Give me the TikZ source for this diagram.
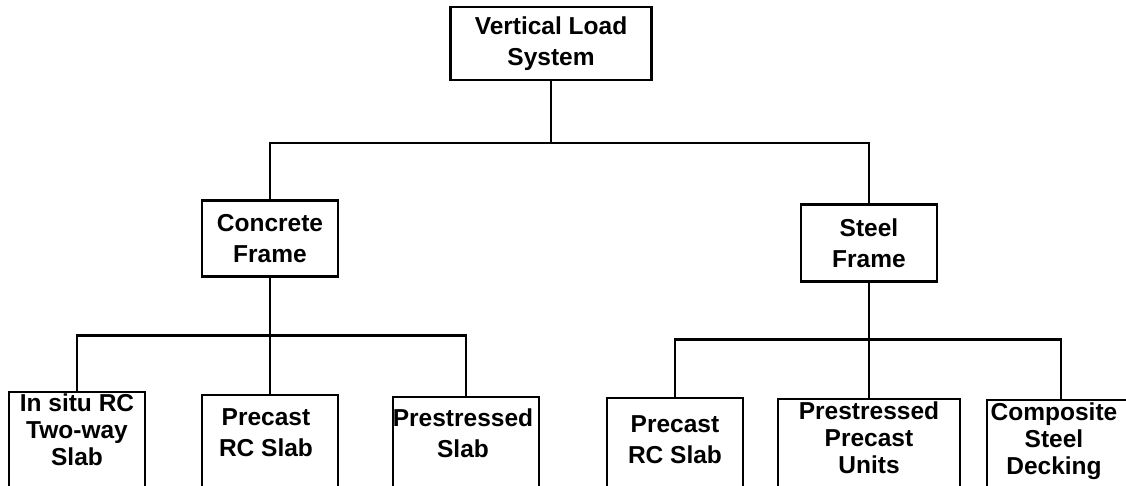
\documentclass[tikz,border=0pt]{standalone}
\usepackage{fontspec}
\setmainfont{Liberation Sans}
\usetikzlibrary{positioning}
\newcommand{\chartfont}{\fontsize{24.5pt}{31pt}\selectfont\bfseries}
\newcommand{\tightfont}{\fontsize{24.5pt}{27pt}\selectfont\bfseries}
\tikzset{
  groupbox/.style={draw, line width=2.4pt, align=center, inner sep=2pt, font=\chartfont},
  leaf/.style={draw, line width=2.4pt, inner sep=0pt},
  leaftext/.style={anchor=north, align=center, inner sep=0pt, font=\chartfont},
  link/.style={line width=2.4pt}
}

\begin{document}
\begin{tikzpicture}[x=1pt, y=1pt, node distance=115pt]
  \path[use as bounding box, clip] (0,0) rectangle (1126,-486);

  \node[groupbox, minimum width=201pt, minimum height=73pt] (sys) at (551,-43.5) {Vertical Load\\System};
  \node[groupbox, minimum width=136pt, minimum height=76pt, below=118pt of sys, xshift=-281pt] (conc) {Concrete\\Frame};
  \node[groupbox, minimum width=136pt, minimum height=77pt, below=122pt of sys, xshift=318pt] (steel) {Steel\\Frame};

  \node[leaf, minimum width=136pt, minimum height=98pt, below=113pt of conc, xshift=-193pt,
        label={[leaftext, yshift=-3pt, font=\tightfont]north:In situ RC\\Two-way\\Slab}] (insitu) {};
  \node[leaf, minimum width=136pt, minimum height=94pt, below=116pt of conc,
        label={[leaftext, yshift=-15pt, xshift=-4pt]north:Precast\\RC Slab}] (precl) {};
  \node[leaf, minimum width=146pt, minimum height=93pt, below=118pt of conc, xshift=196pt,
        label={[leaftext, yshift=-13pt, xshift=-3pt]north:Prestressed\\Slab}] (prestr) {};

  \node[leaf, minimum width=136pt, minimum height=110pt, below=114pt of steel, xshift=-194pt,
        label={[leaftext, yshift=-19pt]north:Precast\\RC Slab}] (precr) {};
  \node[leaf, minimum width=182pt, minimum height=110pt, below=115pt of steel,
        label={[leaftext, yshift=-4pt, font=\tightfont]north:Prestressed\\Precast\\Units}] (units) {};
  \node[leaf, minimum width=148pt, minimum height=110pt, below=116pt of steel, xshift=192pt,
        label={[leaftext, yshift=-4pt, xshift=-7pt, font=\tightfont]north:Composite\\Steel\\Decking}] (comp) {};

  \draw[link] (sys.south) -- ++(0,-62) -| (conc.north);
  \draw[link] (sys.south) -- ++(0,-62) -| (steel.north);
  \draw[link] (conc.south) -- ++(0,-58) -| (insitu.north);
  \draw[link] (conc.south) -- (precl.north);
  \draw[link] (conc.south) -- ++(0,-58) -| (prestr.north);
  \draw[link] (steel.south) -- ++(0,-57) -| (precr.north);
  \draw[link] (steel.south) -- (units.north);
  \draw[link] (steel.south) -- ++(0,-57) -| (comp.north);
\end{tikzpicture}
\end{document}
